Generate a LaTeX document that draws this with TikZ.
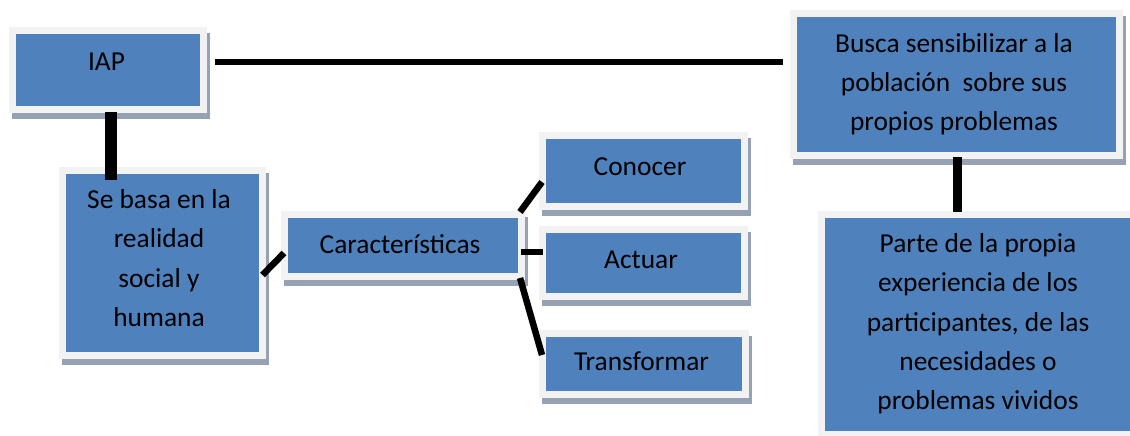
\documentclass[tikz,border=0pt]{standalone}
\usepackage{fontspec}
\setmainfont{Carlito}
\usetikzlibrary{backgrounds,calc}
\definecolor{boxblue}{RGB}{79,129,189}
\definecolor{boxrim}{RGB}{242,242,242}
\definecolor{boxshade}{RGB}{150,162,180}
\newcommand\tstrut{\rule[-5.25pt]{0pt}{20.25pt}}
\begin{document}
\begin{tikzpicture}[x=0.75pt,y=-0.75pt,
  box/.style={rectangle, fill=boxblue, draw=boxrim, line width=5.25pt, inner sep=0pt, outer sep=0pt},
  txt/.style={font=\fontsize{20.55pt}{29.5pt}\selectfont, align=center, inner sep=0pt, text=black},
  link/.style={draw=black, line width=4.9pt},
  heavylink/.style={draw=black, line width=9pt},
  vlink/.style={draw=black, line width=6.3pt}]
\clip (0,0) rectangle (1130,435);
% boxes
\node[box, minimum width=143.25pt, minimum height=58.875pt] (iap) at (107.5,69.75) {};
\node[box, minimum width=244.125pt, minimum height=106.125pt] (busca) at (956.25,84.25) {};
\node[box, minimum width=237pt, minimum height=165pt] (parte) at (979,324) {};
\node[box, minimum width=150.375pt, minimum height=138.375pt] (sebasa) at (162.25,262.75) {};
\node[box, minimum width=177.75pt, minimum height=46.5pt] (caract) at (402.5,245.5) {};
\node[box, minimum width=151.5pt, minimum height=53.25pt] (conocer) at (643.5,170.5) {};
\node[box, minimum width=151.5pt, minimum height=49.875pt] (actuar) at (643.5,262.75) {};
\node[box, minimum width=151.875pt, minimum height=46.125pt] (transf) at (643.75,363.75) {};
% shadows
\begin{scope}[on background layer]
  \fill[white] (0,0) rectangle (1130,435);
  \foreach \n in {iap,busca,parte,sebasa,caract,conocer,actuar,transf}
    \fill[boxshade] ($(\n.north west)+(-0.5,2.5)$) rectangle ($(\n.south east)+(6.5,9.5)$);
\end{scope}
% texts
\node[txt] (t-iap) at (106.5,63.5) {\tstrut IAP};
\node[txt] (t-busca) at (954,85) {\tstrut Busca sensibilizar a la\\población\ \ sobre sus\\propios problemas\tstrut};
\node[txt] (t-parte) at (978,324.5) {\tstrut Parte de la propia\\experiencia de los\\participantes, de las\\necesidades o\\problemas vividos\tstrut};
\node[txt] (t-sebasa) at (159,261) {\tstrut Se basa en la\\realidad\\social y\\humana\tstrut};
\node[txt] (t-caract) at (400,246.5) {\tstrut Características};
\node[txt] (t-conocer) at (640,168.5) {\tstrut Conocer};
\node[txt] (t-actuar) at (641,261.5) {\tstrut Actuar};
\node[txt] (t-transf) at (641.5,364) {\tstrut Transformar};
% connectors
\draw[link] ($(iap.east)+(12,-7.75)$) -- ($(iap.east -| busca.west)+(-10.5,-7.75)$);
\draw[heavylink] ($(iap.south)+(3.5,3)$) -- ($(iap.south |- sebasa.north)+(3.5,9.5)$);
\draw[vlink] ($(busca.south)+(1.25,2)$) -- ($(busca.south |- parte.north)+(1.25,-2)$);
\draw[link] ($(sebasa.east)+(0,12.25)$) -- ($(caract.west)+(0,7.5)$);
\draw[link] ($(caract.north east)+(-1,-2.5)$) -- ($(conocer.west)+(-0.5,11.5)$);
\draw[link] ($(caract.east)+(0,6.5)$) -- ($(actuar.west)+(0,-10.75)$);
\draw[link] ($(caract.south east)+(-1,1.5)$) -- ($(transf.west)+(-0.5,-8.75)$);
\end{tikzpicture}
\end{document}
